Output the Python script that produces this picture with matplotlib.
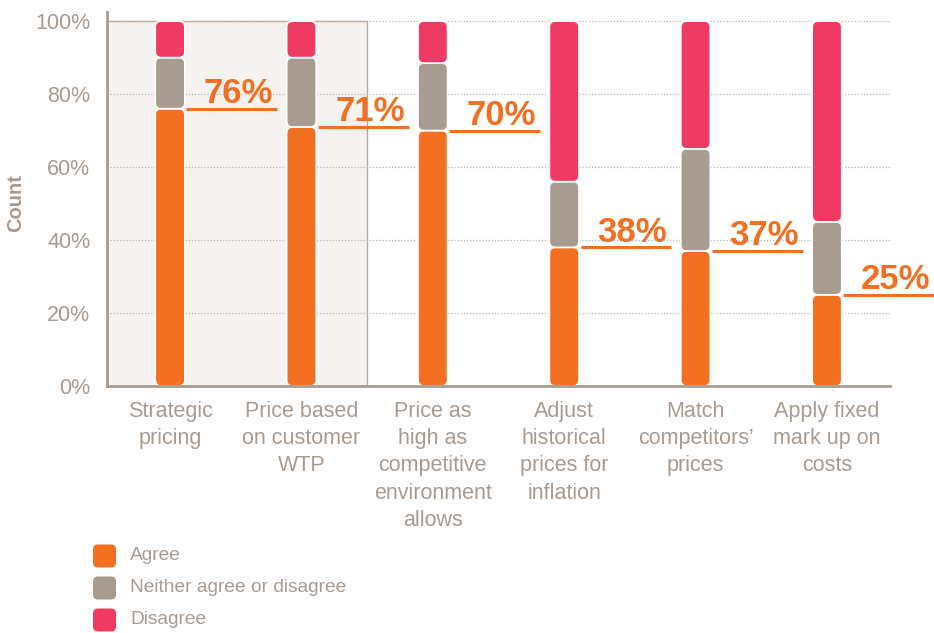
import matplotlib.pyplot as plt
from matplotlib.patches import FancyBboxPatch, Rectangle
import numpy as np

plt.rcParams['font.family'] = ['Liberation Sans', 'DejaVu Sans']

# --- data ---
categories = ["Strategic\npricing", "Price based\non customer\nWTP",
              "Price as\nhigh as\ncompetitive\nenvironment\nallows",
              "Adjust\nhistorical\nprices for\ninflation",
              "Match\ncompetitors’\nprices", "Apply fixed\nmark up on\ncosts"]
agree = [76, 71, 70, 38, 37, 25]
neither = [14, 19, 18.5, 18, 28, 20]
disagree = [10, 10, 11.5, 44, 35, 55]
series_names = ["Agree", "Neither agree or disagree", "Disagree"]
yticks = [0, 20, 40, 60, 80, 100]

c_orange = "#F36F21"
c_grey = "#A89B90"
c_pink = "#EF3B63"
c_text = "#A89C92"
colors = [c_orange, c_grey, c_pink]

fig = plt.figure(figsize=(9.34, 6.33), dpi=100)
ax = fig.add_axes([107/934, 1 - 386/633, (890 - 107)/934, (386 - 12)/633])
ax.set_xlim(-0.48, 5.48)
ax.set_ylim(0, 102.5)

# shaded block behind first two bars
ax.add_patch(Rectangle((-0.48, 0), 1.98, 100, facecolor="#F5F3F1",
                       edgecolor="#B5AAA1", lw=1, zorder=0))

# dotted grid
for t in yticks[1:]:
    ax.axhline(t, color="#BDB4AD", lw=0.9, ls=(0, (1, 1.5)), zorder=0.5)

x = np.arange(len(categories))
w = 0.225
asp = 131.4 / 3.65
for i in x:
    bottom = 0
    for vals, col in zip([agree, neither, disagree], colors):
        h = vals[i]
        ax.add_patch(FancyBboxPatch((i - w/2, bottom), w, h,
                                    boxstyle="round,pad=0,rounding_size=0.045",
                                    mutation_aspect=asp, facecolor=col,
                                    edgecolor="white", lw=1.2, zorder=2))
        bottom += h
    # label with underline
    ax.plot([i + 0.125, i + 0.815], [agree[i], agree[i]], color=c_orange,
            lw=2.2, clip_on=False, zorder=3, solid_capstyle='butt')
    ax.text(i + 0.785, agree[i] + 1.6, f"{agree[i]}%", color=c_orange,
            fontsize=25, fontweight='bold', ha='right', va='baseline',
            clip_on=False)

for s in ['top', 'right']:
    ax.spines[s].set_visible(False)
for s in ['left', 'bottom']:
    ax.spines[s].set_color(c_text)
    ax.spines[s].set_linewidth(2)

ax.set_yticks(yticks)
ax.set_yticklabels([f"{t}%" for t in yticks])
ax.set_xticks(x)
ax.set_xticklabels(categories, linespacing=1.38)
ax.tick_params(axis='both', length=0, colors=c_text, labelsize=15.5)
ax.tick_params(axis='y', pad=12)
ax.tick_params(axis='x', pad=11)
ax.set_ylabel("Count", color=c_text, fontsize=14.5, fontweight='bold')
ax.yaxis.set_label_coords(-0.104, 0.49)

# legend at bottom-left
lax = fig.add_axes([0, 0, 1, 1])
lax.set_xlim(0, 934)
lax.set_ylim(633, 0)
lax.axis('off')
for k, (name, col) in enumerate(zip(series_names, colors)):
    yc = 556 + k * 32
    lax.add_patch(FancyBboxPatch((93, yc - 11.5), 23, 23,
                                 boxstyle="round,pad=0,rounding_size=5",
                                 facecolor=col, edgecolor='none'))
    lax.text(130, yc, name, color=c_text, fontsize=13.8, va='center', ha='left')

fig.savefig("out.png", dpi=100)
